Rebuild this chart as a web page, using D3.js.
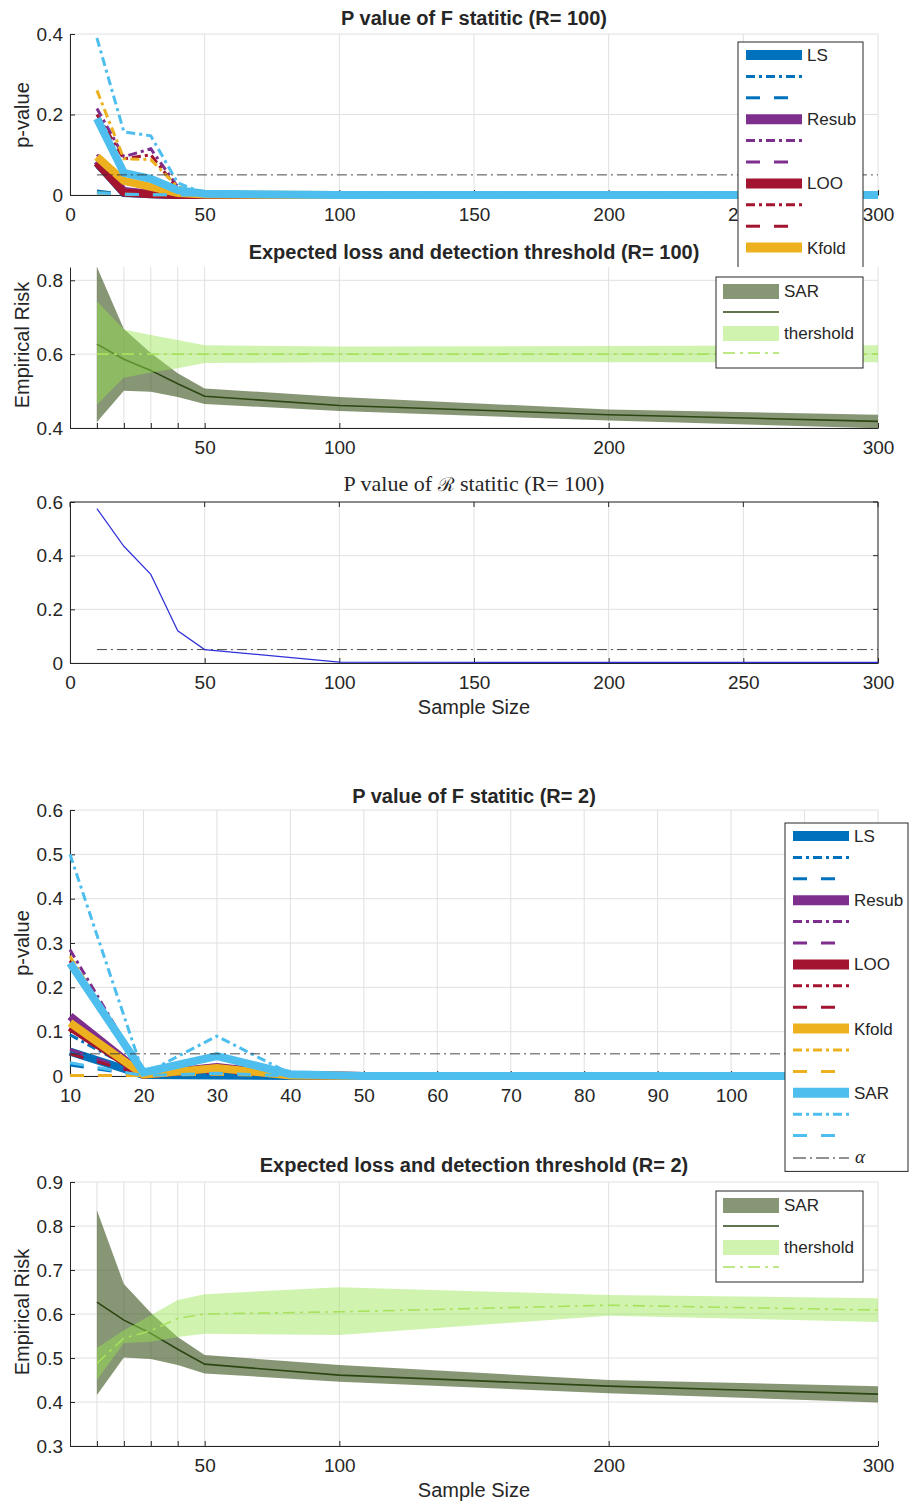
<!DOCTYPE html>
<html><head><meta charset="utf-8">
<script src="https://cdn.jsdelivr.net/npm/d3@7"></script>
<style>
body{margin:0;background:#fff}
svg{display:block}
</style>
</head><body>
<svg id="c" width="909" height="1504" font-family="'Liberation Sans',Arial,Helvetica,sans-serif" fill="#262626"></svg>
<script>
// ---------------- DATA ----------------
const samples = [10, 20, 30, 40, 50, 100, 200, 300];
const methods = ["LS", "Resub", "LOO", "Kfold", "SAR"];
const alphaLevel = 0.05;

// Panel 1: p value of F statistic, R = 100  (per method: [solid, dash-dot, dashed])
const fR100_LS    = [[0.080, 0.005, 0.002, 0.000, 0, 0, 0, 0], [0.070, 0.004, 0.001, 0, 0, 0, 0, 0], [0.010, 0.002, 0, 0, 0, 0, 0, 0]];
const fR100_Resub = [[0.085, 0.010, 0.003, 0.000, 0, 0, 0, 0], [0.215, 0.095, 0.115, 0.020, 0.002, 0, 0, 0], [0.100, 0.040, 0.020, 0.004, 0, 0, 0, 0]];
const fR100_LOO   = [[0.080, 0.006, 0.002, 0.000, 0, 0, 0, 0], [0.200, 0.090, 0.100, 0.015, 0.001, 0, 0, 0], [0.090, 0.030, 0.015, 0.003, 0, 0, 0, 0]];
const fR100_Kfold = [[0.095, 0.035, 0.020, 0.005, 0.001, 0, 0, 0], [0.260, 0.090, 0.088, 0.020, 0.002, 0, 0, 0], [0.005, 0.002, 0.001, 0, 0, 0, 0, 0]];
const fR100_SAR   = [[0.190, 0.055, 0.040, 0.012, 0.003, 0, 0, 0], [0.390, 0.157, 0.147, 0.030, 0.004, 0, 0, 0], [0.005, 0.002, 0.001, 0, 0, 0, 0, 0]];

// Panel 2 / 5: expected loss (SAR) and detection threshold
const sarRiskMean  = [0.627, 0.586, 0.556, 0.520, 0.486, 0.461, 0.436, 0.418];
const sarRiskUpper = [0.836, 0.668, 0.603, 0.548, 0.507, 0.484, 0.450, 0.436];
const sarRiskLower = [0.416, 0.501, 0.498, 0.484, 0.465, 0.446, 0.420, 0.399];
const thrR100Mean  = [0.600, 0.600, 0.600, 0.600, 0.600, 0.600, 0.600, 0.600];
const thrR100Upper = [0.743, 0.667, 0.652, 0.638, 0.624, 0.621, 0.622, 0.624];
const thrR100Lower = [0.463, 0.536, 0.550, 0.562, 0.576, 0.578, 0.578, 0.578];
const thrR2Mean    = [0.488, 0.545, 0.562, 0.590, 0.600, 0.605, 0.620, 0.609];
const thrR2Upper   = [0.523, 0.563, 0.597, 0.632, 0.645, 0.661, 0.643, 0.636];
const thrR2Lower   = [0.450, 0.534, 0.537, 0.548, 0.555, 0.552, 0.596, 0.582];

// Panel 3: p value of R statistic, R = 100
const rStatP = [0.575, 0.435, 0.330, 0.120, 0.050, 0.003, 0.002, 0.002];

// Panel 4: p value of F statistic, R = 2  (per method: [solid, dash-dot, dashed])
const fR2_LS    = [[0.055, 0.002, 0.001, 0, 0, 0, 0, 0], [0.093, 0.003, 0.002, 0, 0, 0, 0, 0], [0.025, 0.001, 0.000, 0, 0, 0, 0, 0]];
const fR2_Resub = [[0.135, 0.003, 0.020, 0.002, 0, 0, 0, 0], [0.285, 0.005, 0.025, 0.003, 0, 0, 0, 0], [0.060, 0.002, 0.010, 0.001, 0, 0, 0, 0]];
const fR2_LOO   = [[0.110, 0.003, 0.018, 0.002, 0, 0, 0, 0], [0.260, 0.004, 0.022, 0.002, 0, 0, 0, 0], [0.050, 0.002, 0.008, 0.001, 0, 0, 0, 0]];
const fR2_Kfold = [[0.120, 0.003, 0.018, 0.001, 0, 0, 0, 0], [0.270, 0.005, 0.020, 0.002, 0, 0, 0, 0], [0.001, 0.001, 0.004, 0.000, 0, 0, 0, 0]];
const fR2_SAR   = [[0.255, 0.008, 0.045, 0.004, 0, 0, 0, 0], [0.500, 0.004, 0.090, 0.005, 0, 0, 0, 0], [0.030, 0.001, 0.006, 0.000, 0, 0, 0, 0]];

// Ticks
const p1XTicks = [0, 50, 100, 150, 200, 250, 300];
const p1YTicks = [0, 0.2, 0.4];
const riskXTicks = [10, 20, 30, 40, 50, 100, 200, 300];
const riskXLabels = [50, 100, 200, 300];
const p2YTicks = [0.4, 0.6, 0.8];
const p3XTicks = [0, 50, 100, 150, 200, 250, 300];
const p3YTicks = [0, 0.2, 0.4, 0.6];
const p4XTicks = [10, 20, 30, 40, 50, 60, 70, 80, 90, 100, 110, 120];
const p4XLabels = [10, 20, 30, 40, 50, 60, 70, 80, 90, 100];
const p4YTicks = [0, 0.1, 0.2, 0.3, 0.4, 0.5, 0.6];
const p5YTicks = [0.3, 0.4, 0.5, 0.6, 0.7, 0.8, 0.9];

// ---------------- STYLE ----------------
const methodColors = ["#0072BD", "#7E2F8E", "#A2142F", "#EDB120", "#4DBEEE"];
const lineStyles = [
  {dash: null, width: 8, legendWidth: 10},
  {dash: "9,4,3,4", width: 3, legendWidth: 3},
  {dash: "14,14", width: 3, legendWidth: 3}
];
const AX = "#262626", GRID = "#e0e0e0";
const SANS = "'Liberation Sans',Arial,Helvetica,sans-serif";
const SERIF = "'Liberation Serif','DejaVu Serif',serif";
const L = 70, R = 878;
const svg = d3.select("#c");

function axesFrame(cfg){
  const g = svg.append("g");
  const x = d3.scaleLinear().domain(cfg.xd).range([L, R]);
  const y = d3.scaleLinear().domain(cfg.yd).range([cfg.bottom, cfg.top]);
  // grid
  g.selectAll(".gx").data(cfg.xt).enter().append("line")
    .attr("x1", d=>x(d)).attr("x2", d=>x(d)).attr("y1", cfg.top).attr("y2", cfg.bottom)
    .attr("stroke", GRID).attr("stroke-width", 1);
  g.selectAll(".gy").data(cfg.yt).enter().append("line")
    .attr("x1", L).attr("x2", R).attr("y1", d=>y(d)).attr("y2", d=>y(d))
    .attr("stroke", GRID).attr("stroke-width", 1);
  // axes
  const xa = d3.axisBottom(x).tickValues(cfg.xt).tickSizeInner(-5).tickSizeOuter(0).tickPadding(13)
    .tickFormat(d => (!cfg.xl || cfg.xl.includes(d)) ? d3.format("")(d) : "");
  const ya = d3.axisLeft(y).tickValues(cfg.yt).tickSizeInner(-5).tickSizeOuter(0).tickPadding(7)
    .tickFormat(d => d === 0 ? "0" : d3.format("")(+d.toFixed(2)));
  const gx = g.append("g").attr("transform", `translate(0,${cfg.bottom})`).call(xa);
  const gy = g.append("g").attr("transform", `translate(${L},0)`).call(ya);
  [gx, gy].forEach(a => {
    a.attr("font-family", SANS).attr("font-size", 19);
    a.select(".domain").attr("stroke", AX).attr("stroke-width", 1);
    a.selectAll(".tick line").attr("stroke", AX);
    a.selectAll(".tick text").attr("fill", AX);
  });
  if (cfg.box){
    g.append("line").attr("x1", L).attr("x2", R).attr("y1", cfg.top).attr("y2", cfg.top).attr("stroke", AX);
    g.append("line").attr("x1", R).attr("x2", R).attr("y1", cfg.top).attr("y2", cfg.bottom).attr("stroke", AX);
    g.selectAll(".tt").data(cfg.xt).enter().append("line")
      .attr("x1", d=>x(d)).attr("x2", d=>x(d)).attr("y1", cfg.top).attr("y2", cfg.top+5).attr("stroke", AX);
    g.selectAll(".tr").data(cfg.yt).enter().append("line")
      .attr("x1", R).attr("x2", R-5).attr("y1", d=>y(d)).attr("y2", d=>y(d)).attr("stroke", AX);
  }
  // title
  const t = g.append("text").attr("x", (L+R)/2).attr("y", cfg.titleY).attr("text-anchor", "middle");
  if (cfg.titleSerif){
    t.attr("font-family", SERIF).attr("font-size", 22);
    t.append("tspan").text(cfg.title[0]);
    t.append("tspan").attr("font-family", "'DejaVu Serif',serif").attr("font-size", 19).text(cfg.title[1]);
    t.append("tspan").text(cfg.title[2]);
  } else {
    t.attr("font-size", 20).attr("font-weight", "bold").text(cfg.title);
  }
  if (cfg.ylabel){
    g.append("text").attr("transform", `translate(29,${cfg.ylabelY}) rotate(-90)`).attr("text-anchor", "middle")
      .attr("font-size", 20).text(cfg.ylabel);
  }
  if (cfg.xlabel){
    g.append("text").attr("x", (L+R)/2).attr("y", cfg.xlabelY).attr("text-anchor", "middle")
      .attr("font-size", 20).text(cfg.xlabel);
  }
  return {g, x, y};
}

function drawMethodLines(P, seriesList, clipId){
  const line = d3.line().x((d,i)=>P.x(samples[i])).y(d=>P.y(d));
  const gg = P.g.append("g");
  if (clipId) gg.attr("clip-path", `url(#${clipId})`);
  seriesList.forEach((trip, mi) => {
    trip.forEach((vals, si) => {
      const st = lineStyles[si];
      gg.append("path").datum(vals).attr("d", line).attr("fill", "none")
        .attr("stroke", methodColors[mi]).attr("stroke-width", st.width)
        .attr("stroke-dasharray", st.dash).attr("stroke-linejoin", "miter");
    });
  });
  gg.append("line").attr("x1", P.x(samples[0])).attr("x2", P.x(samples[samples.length-1]))
    .attr("y1", P.y(alphaLevel)).attr("y2", P.y(alphaLevel))
    .attr("stroke", "#333").attr("stroke-width", 0.9).attr("stroke-dasharray", "10,4,2,4");
}

function methodLegend(x0, y0, withAlpha, clipId){
  const entries = [];
  methods.forEach((m, mi) => lineStyles.forEach((st, si) => entries.push({color: methodColors[mi], st, label: si===0 ? m : ""})));
  const step = 21.4;
  const h = entries.length*step + (withAlpha ? step : 0) + 6;
  const g = svg.append("g");
  if (clipId) g.attr("clip-path", `url(#${clipId})`);
  g.append("rect").attr("x", x0).attr("y", y0).attr("width", withAlpha ? 123 : 125).attr("height", h)
    .attr("fill", "#fff").attr("stroke", AX).attr("stroke-width", 1);
  entries.forEach((e, i) => {
    const yy = y0 + 13 + i*step;
    g.append("line").attr("x1", x0+8).attr("x2", x0+64).attr("y1", yy).attr("y2", yy)
      .attr("stroke", e.color).attr("stroke-width", e.st.legendWidth).attr("stroke-dasharray", e.st.dash);
    if (e.label) g.append("text").attr("x", x0+69).attr("y", yy+6).attr("font-size", 17).text(e.label);
  });
  if (withAlpha){
    const yy = y0 + 13 + entries.length*step + 1;
    g.append("line").attr("x1", x0+8).attr("x2", x0+64).attr("y1", yy).attr("y2", yy)
      .attr("stroke", "#222").attr("stroke-width", 1).attr("stroke-dasharray", "13,4,2,4");
    g.append("text").attr("x", x0+70).attr("y", yy+5).attr("font-size", 19).attr("font-style", "italic")
      .attr("font-family", SERIF).text("α");
  }
}

const sarFill = "rgb(55,80,25)", sarFillOp = 0.6;
const thrFill = "rgb(150,230,80)", thrFillOp = 0.45;
const sarLine = "#2b4612", thrLine = "#a8e25c";

function riskPanel(P, thrMean, thrUp, thrLo){
  const area = (up, lo) => d3.area().x((d,i)=>P.x(samples[i])).y0((d,i)=>P.y(lo[i])).y1((d,i)=>P.y(up[i]));
  const line = d3.line().x((d,i)=>P.x(samples[i])).y(d=>P.y(d));
  P.g.append("path").datum(samples).attr("d", area(sarRiskUpper, sarRiskLower)).attr("fill", sarFill).attr("fill-opacity", sarFillOp);
  P.g.append("path").datum(sarRiskMean).attr("d", line).attr("fill", "none").attr("stroke", sarLine).attr("stroke-width", 1.6);
  P.g.append("path").datum(samples).attr("d", area(thrUp, thrLo)).attr("fill", thrFill).attr("fill-opacity", thrFillOp);
  P.g.append("path").datum(thrMean).attr("d", line).attr("fill", "none").attr("stroke", thrLine)
    .attr("stroke-width", 1.6).attr("stroke-dasharray", "12,5,3,5");
}

function riskLegend(x0, y0){
  const g = svg.append("g");
  g.append("rect").attr("x", x0).attr("y", y0).attr("width", 147).attr("height", 91)
    .attr("fill", "#fff").attr("stroke", AX).attr("stroke-width", 1);
  const sx = x0+7, ex = x0+63;
  g.append("rect").attr("x", sx).attr("y", y0+7).attr("width", 56).attr("height", 15).attr("fill", sarFill).attr("fill-opacity", sarFillOp);
  g.append("text").attr("x", x0+68).attr("y", y0+20).attr("font-size", 17).text("SAR");
  g.append("line").attr("x1", sx).attr("x2", ex).attr("y1", y0+35).attr("y2", y0+35).attr("stroke", sarLine).attr("stroke-width", 1.6);
  g.append("rect").attr("x", sx).attr("y", y0+49).attr("width", 56).attr("height", 15).attr("fill", thrFill).attr("fill-opacity", thrFillOp);
  g.append("text").attr("x", x0+68).attr("y", y0+62).attr("font-size", 17).text("thershold");
  g.append("line").attr("x1", sx).attr("x2", ex).attr("y1", y0+76).attr("y2", y0+76).attr("stroke", thrLine)
    .attr("stroke-width", 1.6).attr("stroke-dasharray", "12,5,3,5");
}

const defs = svg.append("defs");
defs.append("clipPath").attr("id", "clipLeg1").append("rect").attr("x", 0).attr("y", 0).attr("width", 909).attr("height", 267);
defs.append("clipPath").attr("id", "clipP4").append("rect").attr("x", 60).attr("y", 780).attr("width", 818).attr("height", 330);

// ---------------- PANEL 1 ----------------
const P1 = axesFrame({xd:[0,300], yd:[0,0.4], top:34, bottom:195, xt:p1XTicks, yt:p1YTicks,
  title:"P value of F statitic (R= 100)", titleY:25, ylabel:"p-value", ylabelY:115});
drawMethodLines(P1, [fR100_LS, fR100_Resub, fR100_LOO, fR100_Kfold, fR100_SAR]);
methodLegend(738, 42, false, "clipLeg1");

// ---------------- PANEL 2 ----------------
const P2 = axesFrame({xd:[0,300], yd:[0.4,0.836], top:267, bottom:428, xt:riskXTicks, xl:riskXLabels, yt:p2YTicks,
  title:"Expected loss and detection threshold (R= 100)", titleY:259, ylabel:"Empirical Risk", ylabelY:345});
riskPanel(P2, thrR100Mean, thrR100Upper, thrR100Lower);
riskLegend(716, 277);

// ---------------- PANEL 3 ----------------
const P3 = axesFrame({xd:[0,300], yd:[0,0.6], top:502, bottom:663, xt:p3XTicks, yt:p3YTicks, box:true,
  title:["P value of ", "ℛ", " statitic (R= 100)"], titleY:491, titleSerif:true, xlabel:"Sample Size", xlabelY:714});
P3.g.append("line").attr("x1", P3.x(samples[0])).attr("x2", P3.x(300)).attr("y1", P3.y(alphaLevel)).attr("y2", P3.y(alphaLevel))
  .attr("stroke", "#333").attr("stroke-width", 0.9).attr("stroke-dasharray", "10,4,2,4");
P3.g.append("path").datum(rStatP).attr("d", d3.line().x((d,i)=>P3.x(samples[i])).y(d=>P3.y(d)))
  .attr("fill", "none").attr("stroke", "#2f2fd8").attr("stroke-width", 1.2);

// ---------------- PANEL 4 ----------------
const P4 = axesFrame({xd:[10,120], yd:[0,0.6], top:810, bottom:1076, xt:p4XTicks, xl:p4XLabels, yt:p4YTicks,
  title:"P value of F statitic (R= 2)", titleY:803, ylabel:"p-value", ylabelY:943});
drawMethodLines(P4, [fR2_LS, fR2_Resub, fR2_LOO, fR2_Kfold, fR2_SAR], "clipP4");
methodLegend(785, 823, true);

// ---------------- PANEL 5 ----------------
const P5 = axesFrame({xd:[0,300], yd:[0.3,0.9], top:1182, bottom:1446, xt:riskXTicks, xl:riskXLabels, yt:p5YTicks,
  title:"Expected loss and detection threshold (R= 2)", titleY:1172, ylabel:"Empirical Risk", ylabelY:1312,
  xlabel:"Sample Size", xlabelY:1497});
riskPanel(P5, thrR2Mean, thrR2Upper, thrR2Lower);
riskLegend(716, 1191);
</script>
</body></html>
